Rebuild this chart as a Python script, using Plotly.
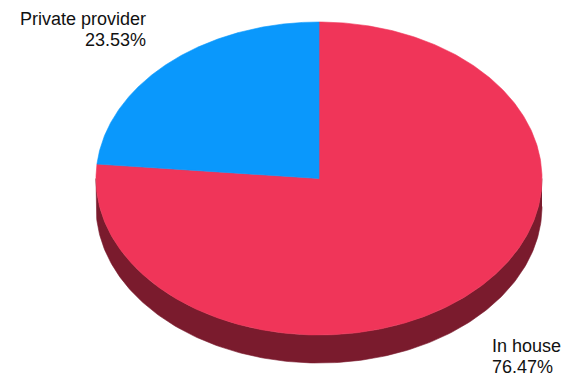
import numpy as np
import plotly.graph_objects as go

# Slice data (clockwise from 12 o'clock)
categories = ["In house", "Private provider"]
shares = [76.47, 23.53]
top_colors = ["#F03559", "#0A98FC"]
side_colors = ["#7A1B2D", "#08508A"]

W, H = 561, 381
cx, cy = 319.0, 178.5      # centre of the top face
rx, ry = 223.0, 156.5      # radii of the top ellipse
depth = 28.0               # thickness of the disc


def rim(t):
    """Point on the top ellipse at clockwise angle t (radians) from the top."""
    return cx + rx * np.sin(t), cy - ry * np.cos(t)


fig = go.Figure()

total = sum(shares)
bounds = np.concatenate([[0.0], np.cumsum(shares) / total * 2 * np.pi])

# Visible side walls: the part of each slice lying in the front half (90°..270°)
for i, cat in enumerate(categories):
    a0, a1 = bounds[i], bounds[i + 1]
    lo, hi = max(a0, np.pi / 2), min(a1, 3 * np.pi / 2)
    if hi <= lo:
        continue
    t = np.linspace(lo, hi, 200)
    x, y = rim(t)
    xs = np.concatenate([x, x[::-1]])
    ys = np.concatenate([y, (y + depth)[::-1]])
    fig.add_trace(go.Scatter(x=xs, y=ys, mode="lines", fill="toself",
                             fillcolor=side_colors[i], line=dict(width=0.6, color=side_colors[i]),
                             hoverinfo="skip", showlegend=False))

# Top faces of the slices
for i, cat in enumerate(categories):
    a0, a1 = bounds[i], bounds[i + 1]
    t = np.linspace(a0, a1, 400)
    x, y = rim(t)
    xs = np.concatenate([[cx], x, [cx]])
    ys = np.concatenate([[cy], y, [cy]])
    fig.add_trace(go.Scatter(x=xs, y=ys, mode="lines", fill="toself",
                             fillcolor=top_colors[i], line=dict(width=0.6, color=top_colors[i]),
                             name=cat, hoverinfo="name", showlegend=False))

font = dict(family="Liberation Sans, Arial, sans-serif", size=18, color="#111111")

# Labels: category name over its percentage
labels = [
    dict(lines=[categories[1], f"{shares[1]:.2f}%"], x=148, y=[19, 40], anchor="right"),
    dict(lines=[categories[0], f"{shares[0]:.2f}%"], x=490, y=[346, 367], anchor="left"),
]
for lab in labels:
    for txt, yy in zip(lab["lines"], lab["y"]):
        fig.add_annotation(x=lab["x"], y=yy, text=txt, showarrow=False,
                           xanchor=lab["anchor"], yanchor="middle", font=font,
                           align=lab["anchor"])

fig.update_xaxes(range=[0, W], visible=False, fixedrange=True)
fig.update_yaxes(range=[H, 0], visible=False, fixedrange=True)
fig.update_layout(width=W, height=H, margin=dict(l=0, r=0, t=0, b=0),
                  paper_bgcolor="white", plot_bgcolor="white", showlegend=False)

fig.write_html("out.html", config={"displayModeBar": False})
